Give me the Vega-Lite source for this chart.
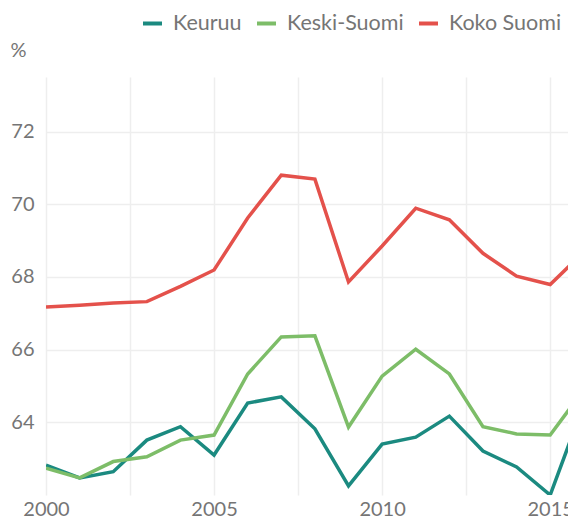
{
  "$schema": "https://vega.github.io/schema/vega-lite/v6.json",
  "width": 522,
  "height": 418,
  "autosize": {"type": "none"},
  "padding": {"left": 46, "top": 77, "right": 0, "bottom": 23},
  "background": "white",
  "config": {
    "view": {"stroke": null},
    "font": "Lato",
    "axis": {"labelFont": "Lato", "titleFont": "Lato"},
    "legend": {"labelFont": "Lato"}
  },
  "data": {
    "values": [
      {"vuosi": 2000, "alue": "Keuruu", "arvo": 62.82},
      {"vuosi": 2001, "alue": "Keuruu", "arvo": 62.47},
      {"vuosi": 2002, "alue": "Keuruu", "arvo": 62.64},
      {"vuosi": 2003, "alue": "Keuruu", "arvo": 63.51},
      {"vuosi": 2004, "alue": "Keuruu", "arvo": 63.88},
      {"vuosi": 2005, "alue": "Keuruu", "arvo": 63.1},
      {"vuosi": 2006, "alue": "Keuruu", "arvo": 64.53},
      {"vuosi": 2007, "alue": "Keuruu", "arvo": 64.7},
      {"vuosi": 2008, "alue": "Keuruu", "arvo": 63.82},
      {"vuosi": 2009, "alue": "Keuruu", "arvo": 62.25},
      {"vuosi": 2010, "alue": "Keuruu", "arvo": 63.4},
      {"vuosi": 2011, "alue": "Keuruu", "arvo": 63.59},
      {"vuosi": 2012, "alue": "Keuruu", "arvo": 64.17},
      {"vuosi": 2013, "alue": "Keuruu", "arvo": 63.21},
      {"vuosi": 2014, "alue": "Keuruu", "arvo": 62.77},
      {"vuosi": 2015, "alue": "Keuruu", "arvo": 62.0},
      {"vuosi": 2016, "alue": "Keuruu", "arvo": 64.5},
      {"vuosi": 2000, "alue": "Keski-Suomi", "arvo": 62.74},
      {"vuosi": 2001, "alue": "Keski-Suomi", "arvo": 62.47},
      {"vuosi": 2002, "alue": "Keski-Suomi", "arvo": 62.92},
      {"vuosi": 2003, "alue": "Keski-Suomi", "arvo": 63.05},
      {"vuosi": 2004, "alue": "Keski-Suomi", "arvo": 63.51},
      {"vuosi": 2005, "alue": "Keski-Suomi", "arvo": 63.65},
      {"vuosi": 2006, "alue": "Keski-Suomi", "arvo": 65.33},
      {"vuosi": 2007, "alue": "Keski-Suomi", "arvo": 66.35},
      {"vuosi": 2008, "alue": "Keski-Suomi", "arvo": 66.38},
      {"vuosi": 2009, "alue": "Keski-Suomi", "arvo": 63.87},
      {"vuosi": 2010, "alue": "Keski-Suomi", "arvo": 65.27},
      {"vuosi": 2011, "alue": "Keski-Suomi", "arvo": 66.01},
      {"vuosi": 2012, "alue": "Keski-Suomi", "arvo": 65.33},
      {"vuosi": 2013, "alue": "Keski-Suomi", "arvo": 63.88},
      {"vuosi": 2014, "alue": "Keski-Suomi", "arvo": 63.68},
      {"vuosi": 2015, "alue": "Keski-Suomi", "arvo": 63.65},
      {"vuosi": 2016, "alue": "Keski-Suomi", "arvo": 64.9},
      {"vuosi": 2000, "alue": "Koko Suomi", "arvo": 67.17},
      {"vuosi": 2001, "alue": "Koko Suomi", "arvo": 67.22},
      {"vuosi": 2002, "alue": "Koko Suomi", "arvo": 67.28},
      {"vuosi": 2003, "alue": "Koko Suomi", "arvo": 67.32},
      {"vuosi": 2004, "alue": "Koko Suomi", "arvo": 67.74},
      {"vuosi": 2005, "alue": "Koko Suomi", "arvo": 68.19},
      {"vuosi": 2006, "alue": "Koko Suomi", "arvo": 69.62},
      {"vuosi": 2007, "alue": "Koko Suomi", "arvo": 70.8},
      {"vuosi": 2008, "alue": "Koko Suomi", "arvo": 70.69},
      {"vuosi": 2009, "alue": "Koko Suomi", "arvo": 67.86},
      {"vuosi": 2010, "alue": "Koko Suomi", "arvo": 68.85},
      {"vuosi": 2011, "alue": "Koko Suomi", "arvo": 69.89},
      {"vuosi": 2012, "alue": "Koko Suomi", "arvo": 69.57},
      {"vuosi": 2013, "alue": "Koko Suomi", "arvo": 68.65},
      {"vuosi": 2014, "alue": "Koko Suomi", "arvo": 68.02},
      {"vuosi": 2015, "alue": "Koko Suomi", "arvo": 67.79},
      {"vuosi": 2016, "alue": "Koko Suomi", "arvo": 68.69}
    ]
  },
  "mark": {"type": "line", "strokeWidth": 3.5, "clip": true, "strokeJoin": "miter"},
  "encoding": {
    "x": {
      "field": "vuosi",
      "type": "quantitative",
      "scale": {"domain": [2000, 2015.53], "nice": false, "zero": false},
      "axis": {
        "values": [2000, 2002.5, 2005, 2007.5, 2010, 2012.5, 2015],
        "labelExpr": "datum.value % 5 === 0 ? format(datum.value, 'd') : ''",
        "title": null,
        "domain": false,
        "ticks": false,
        "grid": true,
        "gridColor": "#eeeeee",
        "gridWidth": 1.5,
        "labelFontSize": 20,
        "labelColor": "#757575",
        "labelPadding": 4,
        "labelFlush": false,
        "labelOverlap": false
      }
    },
    "y": {
      "field": "arvo",
      "type": "quantitative",
      "scale": {"domain": [62, 73.5], "nice": false, "zero": false},
      "axis": {
        "values": [64, 66, 68, 70, 72],
        "title": "%",
        "titleAngle": 0,
        "titleAlign": "left",
        "titleBaseline": "middle",
        "titleX": -36,
        "titleY": -27,
        "titleFontSize": 20,
        "titleFontWeight": "normal",
        "titleColor": "#757575",
        "domain": false,
        "ticks": false,
        "grid": true,
        "gridColor": "#eeeeee",
        "gridWidth": 1.5,
        "labelFontSize": 20,
        "labelColor": "#757575",
        "labelPadding": 12
      }
    },
    "color": {
      "field": "alue",
      "type": "nominal",
      "scale": {
        "domain": ["Keuruu", "Keski-Suomi", "Koko Suomi"],
        "range": ["#1b8a80", "#7dbd68", "#e4514b"]
      },
      "legend": {
        "title": null,
        "orient": "none",
        "direction": "horizontal",
        "legendX": 95,
        "legendY": -65,
        "symbolType": "stroke",
        "symbolStrokeWidth": 4,
        "symbolSize": 361,
        "labelFontSize": 21.5,
        "labelColor": "#757575",
        "labelOffset": 9,
        "columnPadding": 7
      }
    }
  }
}
